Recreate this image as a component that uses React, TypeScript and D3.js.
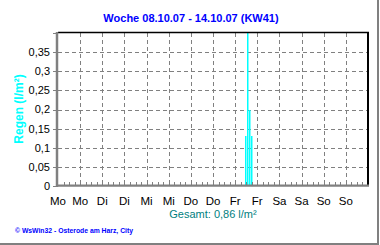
import React from "react";
import * as d3 from "d3";

const title = "Woche 08.10.07 - 14.10.07 (KW41)";
const yLabel = "Regen (l/m²)";
const totalLabel = "Gesamt: 0,86 l/m²";
const footer = "© WsWin32 - Osterode am Harz, City";

const weekStart = "2007-10-08T00:00:00";
const weekEnd = "2007-10-15T00:00:00";
const xTickLabels = ["Mo", "Mo", "Di", "Di", "Mi", "Mi", "Do", "Do", "Fr", "Fr", "Sa", "Sa", "So", "So"];
const yTicks = [0, 0.05, 0.1, 0.15, 0.2, 0.25, 0.3, 0.35];
const yTickLabels = ["0", "0,05", "0,1", "0,15", "0,2", "0,25", "0,3", "0,35"];

const rainTimes = ["2007-10-12T05:30:00", "2007-10-12T06:30:00", "2007-10-12T07:30:00", "2007-10-12T08:30:00"];
const rainValues = [0.13, 0.4, 0.2, 0.13];

const W = 380;
const H = 245;
const left = 58;
const right = 368;
const top = 33;
const bottom = 186;
const FONT = "'Liberation Sans', Arial, sans-serif";

export default function App() {
  const x = d3.scaleTime().domain([new Date(weekStart), new Date(weekEnd)]).range([left, right]);
  const y = d3.scaleLinear().domain([0, 0.4]).range([bottom, top]);
  const majors = d3.timeHour.every(12)!.range(new Date(weekStart), new Date(weekEnd));
  const minors = d3.timeHour.every(3)!.range(new Date(weekStart), new Date(weekEnd));
  const gridY = [...yTicks.filter((v) => v > 0)];
  const grey = "#808080";

  return (
    <svg width={W} height={H} style={{ position: "absolute", left: 0, top: 0, background: "#fff" }} fontFamily={FONT}>
      <rect x={0} y={0} width={W} height={H} fill="#fff" />
      {/* frame */}
      <line x1={378} y1={0} x2={378} y2={244} stroke={grey} strokeWidth={2} />
      <line x1={0} y1={244} x2={379} y2={244} stroke={grey} strokeWidth={2} />

      <text x={191} y={21.5} textAnchor="middle" fontSize={11} fontWeight="bold" fill="#0000FF">{title}</text>

      {/* grid */}
      {gridY.map((v, i) => (
        <line key={"gy" + i} x1={left} x2={right} y1={Math.round(y(v)) + 0.5} y2={Math.round(y(v)) + 0.5} stroke={grey} strokeDasharray="4,3" />
      ))}
      {majors.slice(1).map((d, i) => (
        <line key={"gx" + i} x1={Math.round(x(d)) + 0.5} x2={Math.round(x(d)) + 0.5} y1={top} y2={bottom} stroke={grey} strokeDasharray="4,3" />
      ))}

      {/* bars */}
      {rainTimes.map((t, i) => {
        const v = Math.min(rainValues[i], 0.4);
        return (
          <rect key={"b" + i} x={Math.round(x(new Date(t)))} width={1.5} y={Math.round(y(v))} height={bottom - Math.round(y(v))} fill="#00FFFF" />
        );
      })}

      {/* minor ticks */}
      {minors.slice(1).map((d, i) => (
        <line key={"mt" + i} x1={Math.round(x(d)) + 0.5} x2={Math.round(x(d)) + 0.5} y1={bottom - 4} y2={bottom} stroke={grey} />
      ))}

      {/* borders */}
      <line x1={left} x2={right + 1} y1={top - 0.5} y2={top - 0.5} stroke="#000" strokeWidth={1.5} />
      <line x1={right} x2={right} y1={top - 1} y2={bottom} stroke="#000" strokeWidth={2} />
      <line x1={left - 1} x2={right + 1} y1={bottom - 0.3} y2={bottom - 0.3} stroke={grey} strokeWidth={2.2} />
      <line x1={left - 1} x2={left - 1} y1={top - 1} y2={bottom + 1} stroke={grey} strokeWidth={2.5} />

      {/* y ticks */}
      {[...yTicks, 0.4].map((v, i) => (
        <line key={"yt" + i} x1={left - 5} x2={left - 1} y1={Math.round(y(v)) + 0.5} y2={Math.round(y(v)) + 0.5} stroke={grey} />
      ))}
      {yTicks.map((v, i) => (
        <text key={"yl" + i} x={50} y={y(v)} dy="0.36em" textAnchor="end" fontSize={11} fill="#000">{yTickLabels[i]}</text>
      ))}

      <text transform={`translate(23,109) rotate(-90)`} textAnchor="middle" fontSize={12} fontWeight="bold" fill="#00FFFF">{yLabel}</text>

      {/* x labels */}
      {majors.map((d, i) => (
        <text key={"xl" + i} x={x(d)} y={205} textAnchor="middle" fontSize={11.5} fill="#000">{xTickLabels[i]}</text>
      ))}

      <text x={(left + right) / 2} y={218} textAnchor="middle" fontSize={11} fill="#008080">{totalLabel}</text>

      <text x={15} y={233} fontSize={7} fontWeight="bold" fill="#0000FF" textLength={118} lengthAdjust="spacingAndGlyphs">{footer}</text>
    </svg>
  );
}
